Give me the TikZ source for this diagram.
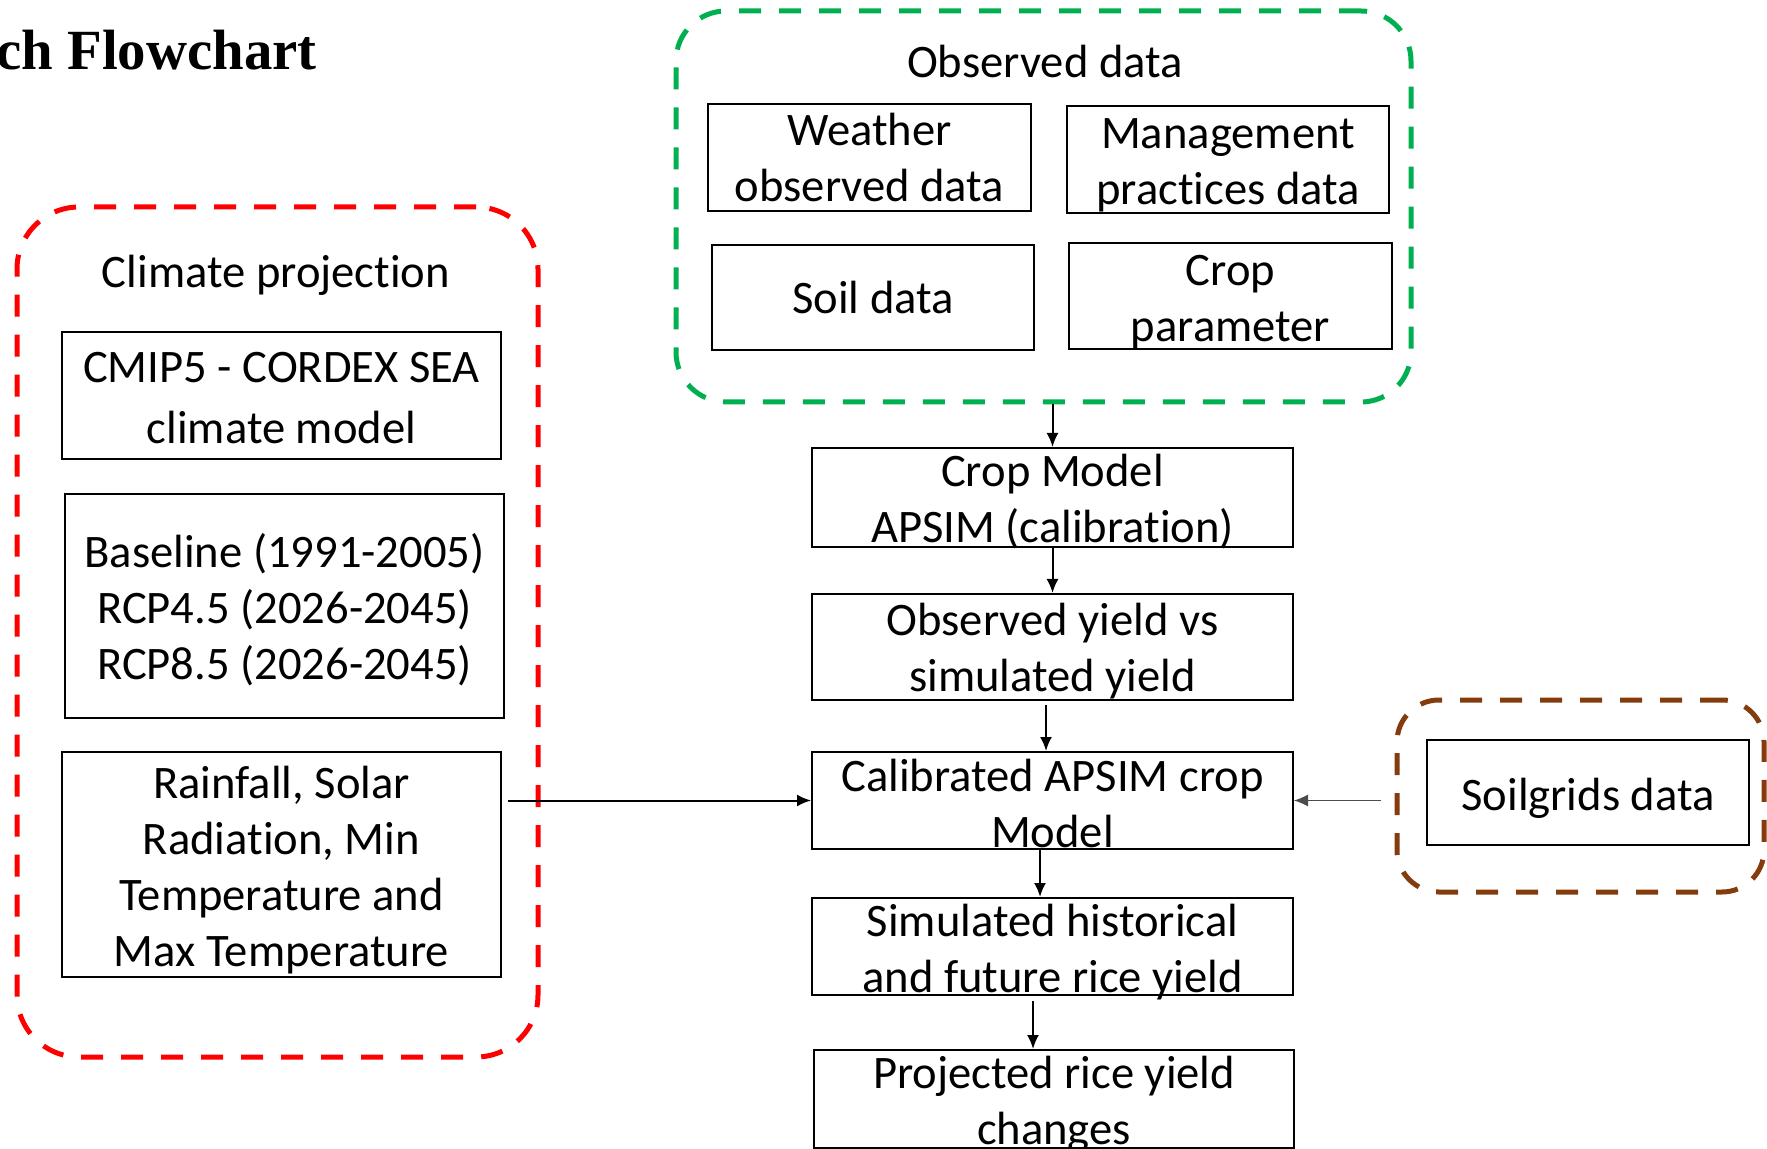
\documentclass[tikz,border=0pt]{standalone}
\usepackage{fontspec}
\setmainfont{Carlito}[Ligatures={NoCommon}]
\newfontfamily\titlefont{Liberation Serif}
\usetikzlibrary{arrows.meta}
\definecolor{odred}{HTML}{FF0000}
\definecolor{odgreen}{HTML}{00B050}
\definecolor{odbrown}{HTML}{843C0C}
\begin{document}
\begin{tikzpicture}[x=0.5pt,y=-0.5pt,
  box/.style={draw=black, line width=1pt, inner sep=0pt},
  txt/.style={align=center, inner sep=0pt, font=\fontsize{23.3}{28}\selectfont},
  grp/.style={line width=2.5pt, dash pattern=on 11pt off 9pt, inner sep=0pt},
  arr/.style={-{Latex[length=7pt,width=6pt]}, line width=1pt},
]
\useasboundingbox (0,0) rectangle (1767,1149);

% title
\node[anchor=base west, inner sep=0pt, font=\titlefont\bfseries\fontsize{28.4}{34}\selectfont] (title) at (-4,70) {ch Flowchart};

% climate projection group
\node[grp, draw=odred, rounded corners=31pt, minimum width=260.5pt, minimum height=425pt] (clim) at (277.5,632) {};
\node[txt, yshift=-1.1pt] (climt) at (276,273) {Climate projection};
\node[box, minimum width=219.5pt, minimum height=63.5pt] (cmip) at (281.5,395.5) {};
\node[txt, yshift=-1.4pt, font=\fontsize{23.3}{30.5}\selectfont] (cmipt) at (cmip) {CMIP5 - CORDEX SEA\\climate model};
\node[box, minimum width=219.5pt, minimum height=112pt] (base) at (284.5,606) {};
\node[txt, yshift=-1.7pt] (baset) at (base) {Baseline (1991-2005)\\RCP4.5 (2026-2045)\\RCP8.5 (2026-2045)};
\node[box, minimum width=219.5pt, minimum height=112.5pt] (rain) at (281.5,864.5) {};
\node[txt, yshift=-2.8pt] (raint) at (rain) {Rainfall, Solar\\Radiation, Min\\Temperature and\\Max Temperature};

% observed data group
\node[grp, draw=odgreen, rounded corners=25pt, minimum width=367.5pt, minimum height=195.5pt] (obs) at (1043.5,206.5) {};
\node[txt] (obst) at (1045,62) {Observed data};
\node[box, minimum width=161.5pt, minimum height=53.5pt] (wea) at (869.5,157.5) {};
\node[txt] (weat) at (wea) {Weather\\observed data};
\node[box, minimum width=161pt, minimum height=53.5pt] (man) at (1228,159.5) {};
\node[txt, yshift=-2.8pt] (mant) at (man) {Management\\practices data};
\node[box, minimum width=161pt, minimum height=52.5pt] (soil) at (873,297.5) {};
\node[txt] (soilt) at (soil) {Soil data};
\node[box, minimum width=161.5pt, minimum height=53pt] (cpar) at (1230.5,296) {};
\node[txt, yshift=-3.1pt] (cpart) at (cpar) {Crop\\parameter};

% centre column
\node[box, minimum width=240.5pt, minimum height=49.5pt] (cm) at (1052.5,497.5) {};
\node[txt, yshift=-2pt] (cmt) at (cm) {Crop Model\\APSIM (calibration)};
\node[box, minimum width=240.5pt, minimum height=53pt] (oy) at (1052.5,647) {};
\node[txt, yshift=-2.25pt] (oyt) at (oy) {Observed yield vs\\simulated yield};
\node[box, minimum width=240.5pt, minimum height=48.5pt] (cal) at (1052.5,800.5) {};
\node[txt, yshift=-1.4pt] (calt) at (cal) {Calibrated APSIM crop\\Model};
\node[box, minimum width=240.5pt, minimum height=48.5pt] (sim) at (1052.5,946.5) {};
\node[txt, yshift=-2.8pt] (simt) at (sim) {Simulated historical\\and future rice yield};
\node[box, minimum width=240pt, minimum height=49pt] (proj) at (1054,1099) {};
\node[txt, yshift=-2.8pt] (projt) at (proj) {Projected rice yield\\changes};

% soilgrids group
\node[grp, draw=odbrown, rounded corners=21pt, minimum width=183.5pt, minimum height=96pt] (sg) at (1580.5,796) {};
\node[box, minimum width=161pt, minimum height=52.5pt] (sgd) at (1588,792.5) {};
\node[txt, yshift=-2.8pt] (sgdt) at (sgd) {Soilgrids data};

% connectors
\draw[arr] (obs.south -| cm.north) -- (cm.north);
\draw[arr] (cm.south) -- (oy.north);
\draw[arr] ([xshift=-3.25pt,yshift=-2pt]oy.south) -- ([xshift=-3.25pt]cal.north);
\draw[arr] ([xshift=-6.25pt]cal.south) -- ([xshift=-6.25pt]sim.north);
\draw[arr] ([xshift=-9.75pt,yshift=-2.5pt]sim.south) -- ([xshift=-9.75pt]sim.south |- proj.north);
\draw[arr] ([xshift=3pt]rain.east |- cal.west) -- (cal.west);
\draw[arr, line width=0.5pt, draw=black!70] ([xshift=-7pt]sg.west |- cal.east) -- (cal.east);
\end{tikzpicture}
\end{document}
